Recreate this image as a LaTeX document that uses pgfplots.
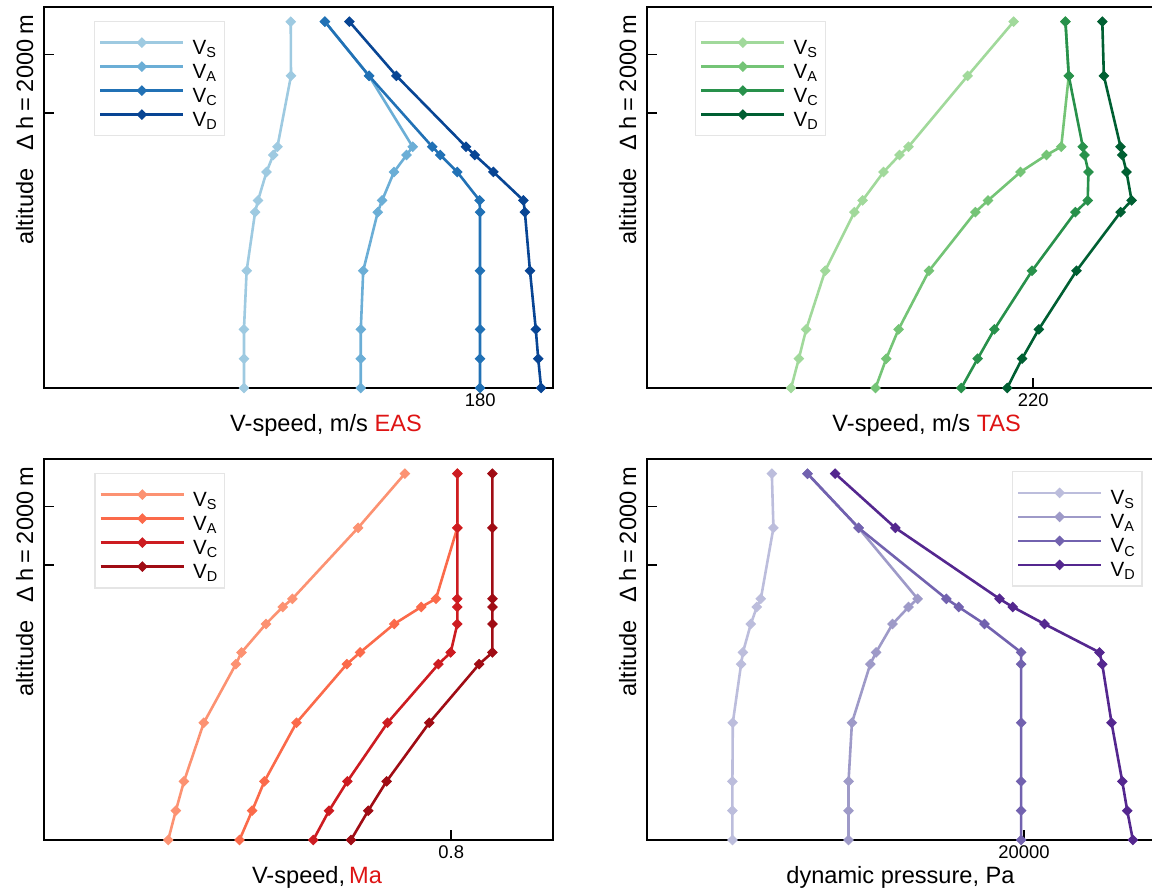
\documentclass[border=0pt]{standalone}
\usepackage{fontspec}
\setmainfont{Liberation Sans}
\usepackage{pgfplots}
\usepackage{pgfplotstable}
\pgfplotsset{compat=1.18}

\definecolor{bS}{RGB}{158,202,225}
\definecolor{bA}{RGB}{107,174,214}
\definecolor{bC}{RGB}{33,113,181}
\definecolor{bD}{RGB}{8,69,148}
\definecolor{gS}{RGB}{161,217,155}
\definecolor{gA}{RGB}{116,196,118}
\definecolor{gC}{RGB}{40,145,75}
\definecolor{gD}{RGB}{0,95,50}
\definecolor{rS}{RGB}{252,146,114}
\definecolor{rA}{RGB}{251,106,74}
\definecolor{rC}{RGB}{205,28,33}
\definecolor{rD}{RGB}{160,12,20}
\definecolor{pS}{RGB}{188,189,220}
\definecolor{pA}{RGB}{158,154,200}
\definecolor{pC}{RGB}{114,98,175}
\definecolor{pD}{RGB}{84,39,143}
\definecolor{lblred}{RGB}{222,20,20}

% altitude [m], V_S, V_A, V_C, V_D
\pgfplotstableread{
h      S      A      C      D
12500  101.8  115.9  115.9  126.0
10650  101.9  134.1  134.1  145.4
8230   96.3   152.1  160.2  174.1
7950   94.6   149.6  163.5  177.7
7370   91.8   144.4  170.5  185.4
6400   88.3   139.5  179.7  197.8
6000   87.1   137.7  179.9  198.4
4000   83.6   131.7  179.9  200.5
2000   82.5   130.7  179.9  202.9
1000   82.5   130.7  179.9  203.9
0      82.5   130.7  179.9  205.1
}\tabEAS

\pgfplotstableread{
h      S      A      C      D
12500  208.9  238.4  238.4  259.4
10650  182.7  240.3  240.3  260.3
8230   149.0  236.0  248.3  269.8
7950   143.9  227.6  249.3  270.8
7370   134.8  212.8  251.5  273.2
6400   122.8  194.3  251.1  276.1
6000   118.2  187.1  244.1  269.8
4000   101.5  160.7  219.4  244.7
2000   90.7   143.3  197.9  223.2
1000   86.5   136.3  188.4  213.7
0      82.1   130.2  179.1  205.2
}\tabTAS

\pgfplotstableread{
h      S      A      C      D
12500  0.709  0.812  0.812  0.881
10650  0.617  0.812  0.812  0.881
8230   0.488  0.770  0.812  0.881
7950   0.469  0.741  0.812  0.881
7370   0.436  0.688  0.812  0.881
6400   0.388  0.621  0.799  0.881
6000   0.377  0.595  0.775  0.855
4000   0.314  0.496  0.675  0.757
2000   0.275  0.433  0.596  0.673
1000   0.259  0.409  0.560  0.637
0      0.244  0.384  0.529  0.603
}\tabMa

\pgfplotstableread{
h      S      A      C      D
12500  6622   8513   8513   9984
10650  6707   11222  11222  13171
8230   6038   14355  15879  18694
7950   5826   13877  16532  19400
7370   5507   13027  17897  21083
6400   5088   12151  19846  24004
6000   4992   11843  19846  24148
4000   4551   10871  19846  24642
2000   4530   10690  19846  25210
1000   4530   10690  19846  25475
0      4530   10690  19846  25773
}\tabQ

\newcommand\lblfont{\fontsize{11.8}{13}\selectfont}

\pgfplotsset{
  panel/.style={
    scale only axis, width=254.5pt, height=190.5pt, anchor=south west,
    scaled ticks=false,
    ymin=0, ymax=13000, ytick={9380,11380}, yticklabels={},
    tick align=inside, tick pos=left, major tick length=5pt,
    axis line style={line width=1pt},
    every tick/.append style={line width=0.8pt, black},
    xticklabel style={font=\fontsize{9.2}{10}\selectfont, anchor=base, yshift=-9.3pt},
    clip=false,
    legend cell align=left,
    legend image code/.code={
      \draw[mark repeat=2, mark phase=2, ##1, line width=1.25pt]
        plot coordinates {(0pt,0pt) (20.8pt,0pt) (41.6pt,0pt)};
    },
    legend style={anchor=north west, draw=black!10, line width=0.7pt, fill=white,
      font=\fontsize{10.3}{11}\selectfont, inner xsep=2.2pt, inner ysep=3.6pt,
      row sep=-2pt, nodes={inner sep=1pt, text height=12pt, text depth=0pt},
      /tikz/every odd column/.append style={column sep=3pt}},
  },
  vl/.style={line width=1.3pt, color=#1, mark=square*, mark size=1.65pt,
    mark options={solid, rotate=45, line width=0.5pt, fill=#1}},
}

\newcommand\legV{\legend{V\textsubscript{S}, V\textsubscript{A}, V\textsubscript{C}, V\textsubscript{D}}}

\begin{document}
\begin{tikzpicture}
\begin{scope}
\clip (0pt,0pt) rectangle (576pt,446pt);

% top left: EAS
\begin{axis}[panel, at={(22pt,252pt)}, xmin=0, xmax=210, xtick={180}, xticklabels={180},
  legend style={at={(0.098,0.964)}}]
\addplot[vl=bS] table[x=S, y=h] {\tabEAS};
\addplot[vl=bA] table[x=A, y=h] {\tabEAS};
\addplot[vl=bC] table[x=C, y=h] {\tabEAS};
\addplot[vl=bD] table[x=D, y=h] {\tabEAS};
\legV
\end{axis}

% top right: TAS
\begin{axis}[panel, at={(323.5pt,252pt)}, xmin=0, xmax=290, xtick={220}, xticklabels={220},
  legend style={at={(0.094,0.964)}}]
\addplot[vl=gS] table[x=S, y=h] {\tabTAS};
\addplot[vl=gA] table[x=A, y=h] {\tabTAS};
\addplot[vl=gC] table[x=C, y=h] {\tabTAS};
\addplot[vl=gD] table[x=D, y=h] {\tabTAS};
\legV
\end{axis}

% bottom left: Mach
\begin{axis}[panel, at={(22pt,26pt)}, xmin=0, xmax=1, xtick={0.8}, xticklabels={0.8},
  legend style={at={(0.099,0.964)}}]
\addplot[vl=rS] table[x=S, y=h] {\tabMa};
\addplot[vl=rA] table[x=A, y=h] {\tabMa};
\addplot[vl=rC] table[x=C, y=h] {\tabMa};
\addplot[vl=rD] table[x=D, y=h] {\tabMa};
\legV
\end{axis}

% bottom right: dynamic pressure
\begin{axis}[panel, at={(323.5pt,26pt)}, xmin=0, xmax=27000, xtick={20000}, xticklabels={20000},
  legend style={at={(0.974,0.9685)}, anchor=north east}]
\addplot[vl=pS] table[x=S, y=h] {\tabQ};
\addplot[vl=pA] table[x=A, y=h] {\tabQ};
\addplot[vl=pC] table[x=C, y=h] {\tabQ};
\addplot[vl=pD] table[x=D, y=h] {\tabQ};
\legV
\end{axis}

% axis titles
\foreach \xx/\yy in {16.5/342.75, 318/342.75, 16.5/116.75, 318/116.75} {
  \node[rotate=90, anchor=base, font=\lblfont, inner sep=0pt] at (\xx pt,\yy pt) {altitude};
}
\foreach \xx/\yy in {16.5/404.75, 318/404.75, 16.5/178.75, 318/178.75} {
  \node[rotate=90, anchor=base, font=\lblfont, inner sep=0pt] at (\xx pt,\yy pt)
    {\spaceskip=2.6pt Δ h = 2000 m};
}
\node[anchor=base, font=\lblfont, inner sep=0pt] at (163pt,230.25pt) {V-speed, m/s \textcolor{lblred}{EAS}};
\node[anchor=base, font=\lblfont, inner sep=0pt] at (463.35pt,230.25pt) {V-speed, m/s \textcolor{lblred}{TAS}};
\node[anchor=base, font=\lblfont, inner sep=0pt] at (158.5pt,4.25pt) {V-speed,\kern2pt\textcolor{lblred}{Ma}};
\node[anchor=base, font=\lblfont, inner sep=0pt] at (450.25pt,4.25pt) {dynamic pressure, Pa};
\end{scope}
\pgfresetboundingbox
\useasboundingbox (0pt,0pt) rectangle (576pt,446pt);
\end{tikzpicture}
\end{document}
